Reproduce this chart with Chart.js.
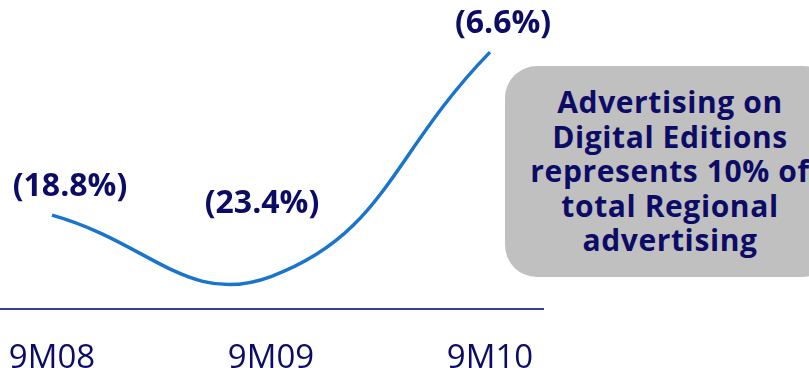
<!DOCTYPE html>
<html>
<head>
<meta charset="utf-8">
<script src="https://cdn.jsdelivr.net/npm/chart.js@4"></script>
<style>
    html, body { margin: 0; padding: 0; background: #fff; }
    #wrap { position: relative; width: 809px; height: 368px; overflow: hidden; }
    #chart { position: absolute; left: 0; top: 0; }
    #note {
        position: absolute; left: 505px; top: 66px; width: 330px; height: 211px;
        background: #c0c0c0; border-radius: 32px;
        display: flex; align-items: center; justify-content: center; text-align: center;
        font-family: "Open Sans", sans-serif; font-weight: 700; font-size: 30px;
        letter-spacing: 0.6px; line-height: 34.5px; color: #0c0c66;
    }
</style>
</head>
<body>
<div id="wrap">
    <canvas id="chart" width="809" height="368"></canvas>
    <div id="note">Advertising on<br>Digital Editions<br>represents 10% of<br>total Regional<br>advertising</div>
</div>
<script>
// data
const categories = ["9M08", "9M09", "9M10"];
const growth = [-18.8, -23.4, -6.6];

const NAVY = "#0c0c66";
const LINE_BLUE = "#1a74cc";

// label offsets from each point (px)
const labelOffsets = [
    { dx: 18, dy: -28 },
    { dx: -9, dy: -73 },
    { dx: 13, dy: -28 },
];

const pointLabels = {
    id: "pointLabels",
    afterDatasetsDraw(chart) {
        const { ctx } = chart;
        const meta = chart.getDatasetMeta(0);
        ctx.save();
        ctx.font = "bold 32px 'Open Sans', sans-serif";
        ctx.fillStyle = NAVY;
        ctx.textAlign = "center";
        ctx.textBaseline = "middle";
        meta.data.forEach((pt, i) => {
            const txt = "(" + Math.abs(growth[i]).toFixed(1) + "%)";
            ctx.fillText(txt, pt.x + labelOffsets[i].dx, pt.y + labelOffsets[i].dy);
        });
        ctx.restore();
    },
};

new Chart(document.getElementById("chart"), {
    type: "line",
    data: {
        datasets: [
            {
                data: growth.map((v, i) => ({ x: i, y: v })),
                borderColor: LINE_BLUE,
                borderWidth: 3.5,
                tension: 0.45,
                pointRadius: 0,
                fill: false,
                clip: false,
            },
        ],
    },
    options: {
        responsive: false,
        animation: false,
        layout: { padding: { left: 0, right: 266, top: 0, bottom: 0 } },
        plugins: {
            legend: { display: false },
            tooltip: { enabled: false },
        },
        scales: {
            x: {
                type: "linear",
                min: -0.2374,
                max: 2.242,
                grid: { display: false, drawTicks: false },
                border: { display: true, color: "#3c3c9c", width: 2 },
                afterFit: (scale) => {
                    scale.height = 59.4;
                    scale.paddingLeft = 0;
                    scale.paddingRight = 0;
                },
                ticks: {
                    stepSize: 1,
                    includeBounds: false,
                    autoSkip: false,
                    maxRotation: 0,
                    padding: 30,
                    color: NAVY,
                    font: { family: "'Open Sans', sans-serif", size: 33 },
                    callback: (v) => (Number.isInteger(v) ? categories[v] : ""),
                },
            },
            y: {
                display: false,
                min: -25.8,
                max: -2.7,
            },
        },
    },
    plugins: [pointLabels],
});
</script>
</body>
</html>
